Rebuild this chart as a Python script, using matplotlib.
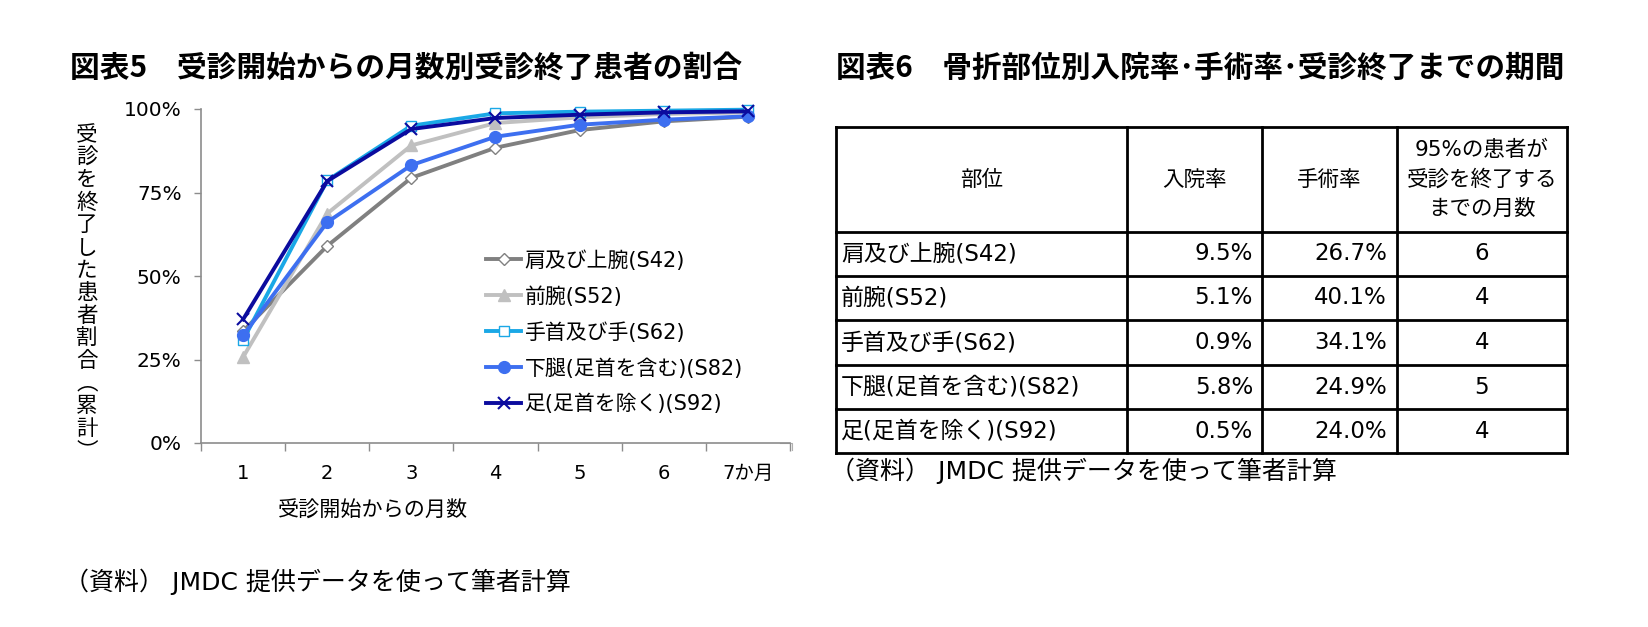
import matplotlib
matplotlib.use("Agg")
import matplotlib.pyplot as plt

plt.rcParams['font.family'] = ['Noto Sans CJK JP', 'DejaVu Sans']
LAT = ['DejaVu Sans', 'Noto Sans CJK JP']

# ---------------- data ----------------
months = [1, 2, 3, 4, 5, 6, 7]
month_labels = ['1', '2', '3', '4', '5', '6', '7か月']
series_names = ['肩及び上腕(S42)', '前腕(S52)', '手首及び手(S62)', '下腿(足首を含む)(S82)', '足(足首を除く)(S92)']
s42 = [33.5, 59.0, 79.4, 88.4, 93.7, 96.3, 97.7]
s52 = [25.7, 68.7, 89.1, 95.8, 97.5, 98.5, 99.0]
s62 = [30.8, 78.6, 95.0, 98.7, 99.2, 99.5, 99.8]
s82 = [32.2, 66.1, 83.2, 91.7, 95.3, 96.8, 97.8]
s92 = [37.0, 78.4, 94.0, 97.3, 98.3, 99.0, 99.3]
yticks = [0, 25, 50, 75, 100]

table_header = ['部位', '入院率', '手術率', '95%の患者が\n受診を終了する\nまでの月数']
table_parts = ['肩及び上腕(S42)', '前腕(S52)', '手首及び手(S62)', '下腿(足首を含む)(S82)', '足(足首を除く)(S92)']
table_hosp = ['9.5%', '5.1%', '0.9%', '5.8%', '0.5%']
table_surg = ['26.7%', '40.1%', '34.1%', '24.9%', '24.0%']
table_months = ['6', '4', '4', '5', '4']

title_left = '図表5\u3000受診開始からの月数別受診終了患者の割合'
title_right = '図表6\u3000骨折部位別入院率･手術率･受診終了までの期間'
ylabel_chars = list('受診を終了した患者割合') + ['︵', '累', '計', '︶']
xlabel = '受診開始からの月数'
source = '（資料） JMDC 提供データを使って筆者計算'

# ---------------- figure ----------------
W, H = 1649, 627
fig = plt.figure(figsize=(W / 100, H / 100), dpi=100)
ov = fig.add_axes([0, 0, 1, 1])
ov.set_xlim(0, W)
ov.set_ylim(H, 0)
ov.axis('off')

ax_l, ax_r, ax_t, ax_b = 201, 790, 109, 443
ax = fig.add_axes([ax_l / W, 1 - ax_b / H, (ax_r - ax_l) / W, (ax_b - ax_t) / H])
ax.set_facecolor('none')

styles = [
    dict(color='#808080', marker='D', mfc='white', mec='#808080', ms=6, mew=1.0),
    dict(color='#c0c0c0', marker='^', mfc='#c0c0c0', mec='#c0c0c0', ms=8, mew=1.0),
    dict(color='#1aa8e6', marker='s', mfc='white', mec='#1aa8e6', ms=7.5, mew=1.0),
    dict(color='#3d6ff0', marker='o', mfc='#3d6ff0', mec='#3d6ff0', ms=8.5, mew=1.0),
    dict(color='#0b0b9e', marker='x', mfc='#0b0b9e', mec='#0b0b9e', ms=8, mew=1.5),
]
all_series = [s42, s52, s62, s82, s92]
handles = []
for name, vals, st in zip(series_names, all_series, styles):
    h, = ax.plot(months, vals, lw=2.8, label=name, zorder=3, clip_on=False, **st)
    handles.append(h)

ax.set_xlim(0.5, 7.5)
ax.set_ylim(0, 100)
ax.set_yticks(yticks)
ax.set_yticklabels([f'{v}%' for v in yticks], family=LAT)
ax.set_xticks([m + 0.5 for m in [0] + months])
ax.set_xticklabels([])
ax.set_xticks(months, minor=True)
ax.set_xticklabels(month_labels, minor=True, family=LAT)
ax.tick_params(axis='x', which='major', length=6, color='#8c8c8c', width=1)
ax.tick_params(axis='x', which='minor', length=0, pad=15, labelsize=14)
ax.tick_params(axis='y', length=5, color='#8c8c8c', width=1, pad=9, labelsize=14.5)
for s in ['top', 'right']:
    ax.spines[s].set_visible(False)
for s in ['left', 'bottom']:
    ax.spines[s].set_color('#8c8c8c')
    ax.spines[s].set_linewidth(1.2)

leg = ax.legend(handles=handles, loc='upper left', bbox_to_anchor=(486, 250),
                bbox_transform=ov.transData, frameon=False,
                prop=dict(family=LAT, size=15),
                handlelength=1.7, handletextpad=0.15, labelspacing=0.74,
                borderpad=0, borderaxespad=0)

for i, ch in enumerate(ylabel_chars):
    ov.text(87, 135 + i * 22.6, ch, fontsize=15.5, ha='center', va='center')

ov.text(373, 511, xlabel, fontsize=15.2, ha='center', va='center')

ov.text(70, 68, title_left, fontsize=21.4, fontweight='bold', ha='left', va='center')
ov.text(836, 68, title_right, fontsize=21.3, fontweight='bold', ha='left', va='center')

ov.text(64, 582, source, fontsize=18, ha='left', va='center', family=LAT)
ov.text(830, 471, source, fontsize=18, ha='left', va='center', family=LAT)

ov.plot([780, 792, 792], [443, 443, 450], color='#b0b0b0', lw=0.8)

# ---------------- table ----------------
cols = [836, 1127, 1262, 1397, 1567]
rows = [127, 232, 276, 320, 365, 409, 453]
for x in cols:
    ov.plot([x, x], [rows[0], rows[-1]], color='black', lw=2.0, solid_capstyle='projecting')
for y in rows:
    ov.plot([cols[0], cols[-1]], [y, y], color='black', lw=2.0, solid_capstyle='projecting')

hy = (rows[0] + rows[1]) / 2
for j, txt in enumerate(table_header):
    cx = (cols[j] + cols[j + 1]) / 2
    ov.text(cx, hy, txt, fontsize=15.5, ha='center', va='center', linespacing=1.55, family=LAT)

for i in range(len(table_parts)):
    cy = (rows[i + 1] + rows[i + 2]) / 2
    ov.text(cols[0] + 5, cy, table_parts[i], fontsize=16.5, ha='left', va='center', family=LAT)
    ov.text(cols[2] - 9, cy, table_hosp[i], fontsize=16.5, ha='right', va='center', family=LAT)
    ov.text(cols[3] - 10, cy, table_surg[i], fontsize=16.5, ha='right', va='center', family=LAT)
    ov.text((cols[3] + cols[4]) / 2, cy, table_months[i], fontsize=16.5, ha='center', va='center', family=LAT)

fig.savefig('out.png', dpi=100)
